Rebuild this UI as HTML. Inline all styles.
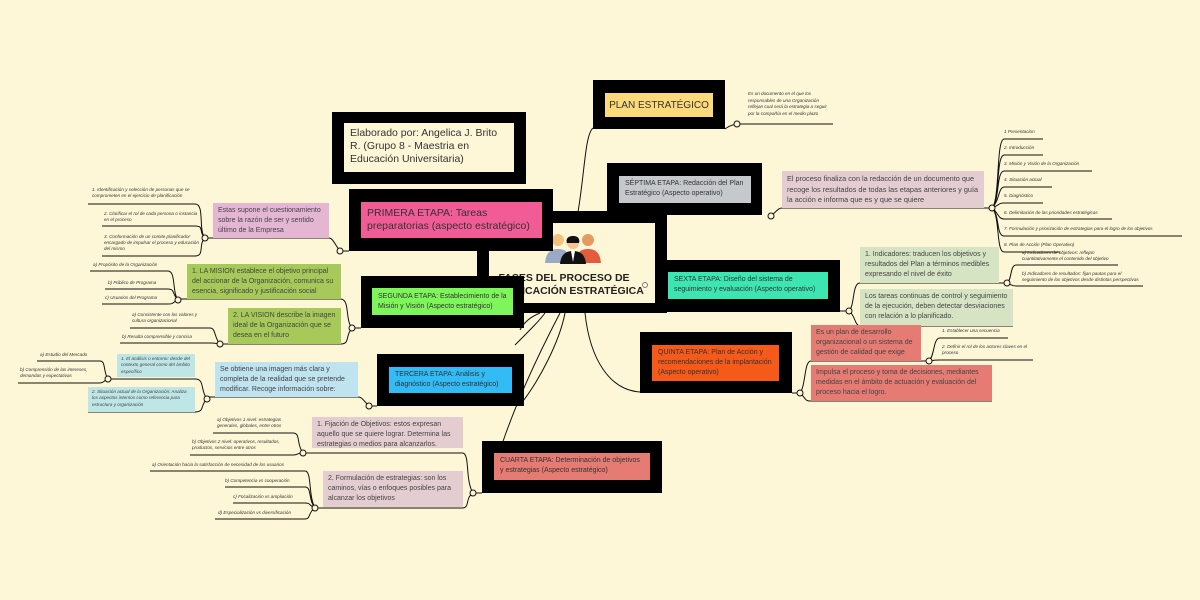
<!DOCTYPE html>
<html><head><meta charset="utf-8"><style>
body{margin:0;width:1200px;height:600px;background:#fdf7d8;position:relative;overflow:hidden;font-family:"Liberation Sans",sans-serif;color:#333}
.b{position:absolute;background:#000}
.i{position:absolute;box-sizing:border-box;padding:3px 6px;line-height:1.3}
.n{position:absolute;box-sizing:border-box;padding:3px 5px;font-size:7px;line-height:1.45;color:#444;overflow:hidden}
.t{position:absolute;font-size:4.6px;color:#333;font-style:italic;line-height:1.5;white-space:nowrap}
svg{position:absolute;left:0;top:0}
</style></head><body>
<svg width="1200" height="600" fill="none" stroke="#111" stroke-width="1">
<path d="M578 212 C585 170 585 135 593 128"/>
<path d="M505 212 C505 195 520 190 540 190"/>
<path d="M520 330 C525 320 535 315 540 313"/>
<path d="M515 345 C530 330 540 320 545 313"/>
<path d="M520 405 C540 380 560 340 565 313"/>
<path d="M488 493 C500 440 525 380 560 313"/>
<path d="M640 392 C610 390 590 360 585 313"/>
<path d="M725 129 C730 125 735 124 740 124 L833 124"/>
<path d="M771 216 C776 212 778 208 782 208 L992 208"/>
<path d="M992 208 C1000 200 996 140 1004 139 L1043 139 M992 208 C1000 200 996 156 1004 155 L1043 155 M992 208 C1000 200 996 172 1004 171 L1092 171 M992 208 C1000 200 998 188 1004 187 L1052 187 M992 208 C1000 205 998 203 1004 203 L1043 203 M992 208 C998 212 998 219 1004 219 L1112 219 M992 208 C1000 215 996 236 1004 236 L1182 236 M992 208 C1000 215 996 252 1004 252 L1060 252"/>
<path d="M840 311 L849 311 C855 305 852 283 860 283 L1007 283 M849 311 C855 315 855 326 860 326 L1013 326"/>
<path d="M1007 283 C1012 280 1010 265 1016 265 L1118 265 M1007 283 C1012 285 1012 286 1016 286 L1143 286"/>
<path d="M792 393 L800 393 C806 385 804 361 811 361 L929 361 M800 393 C806 398 804 401 811 401 L992 401"/>
<path d="M929 361 C935 355 933 338 940 338 L1008 338 M929 361 C935 360 934 360 940 360 L1033 360"/>
<path d="M349 251 L340 251 C335 245 333 238 329 238 L205 238"/>
<path d="M205 238 C198 230 205 204 195 204 L88 204 M205 238 C198 232 205 226 195 226 L102 226 M205 238 C198 244 205 256 195 256 L102 256"/>
<path d="M361 328 L352 328 C345 320 350 300 341 299 L178 299 M352 328 C345 336 350 344 341 344 L220 344"/>
<path d="M178 300 C172 292 176 271 168 271 L90 271 M178 300 C172 294 175 289 168 289 L105 289 M178 300 C172 302 175 304 168 304 L102 304"/>
<path d="M220 344 C214 338 216 328 210 328 L130 328 M220 344 C214 343 215 343 210 343 L120 343"/>
<path d="M377 406 L369 406 C363 400 362 397 358 397 L207 397"/>
<path d="M207 399 C200 390 205 379 195 379 L108 379 M207 399 C200 405 205 412 195 412 L88 412"/>
<path d="M108 379 C103 372 106 361 100 361 L37 361 M108 379 C103 381 104 383 100 383 L18 383"/>
<path d="M482 493 L473 493 C465 480 470 455 463 453 L303 453 M473 493 C465 498 470 507 463 508 L315 508"/>
<path d="M303 453 C296 444 301 433 293 433 L213 433 M303 453 C296 453 299 455 293 455 L190 455"/>
<path d="M315 508 C308 495 312 471 305 471 L150 471 M315 508 C308 500 312 487 305 487 L225 487 M315 508 C308 505 311 503 305 503 L233 503 M315 508 C308 512 311 519 305 519 L215 519"/>
<g fill="#fdf7d8">
<circle cx="771" cy="216" r="3"/><circle cx="992" cy="208" r="3"/><circle cx="849" cy="311" r="3"/><circle cx="1007" cy="283" r="3"/><circle cx="800" cy="393" r="3"/><circle cx="929" cy="361" r="3"/><circle cx="340" cy="251" r="3"/><circle cx="205" cy="238" r="3"/><circle cx="352" cy="328" r="3"/><circle cx="178" cy="300" r="3"/><circle cx="220" cy="344" r="3"/><circle cx="369" cy="406" r="3"/><circle cx="207" cy="399" r="3"/><circle cx="108" cy="379" r="3"/><circle cx="473" cy="493" r="3"/><circle cx="303" cy="453" r="3"/><circle cx="315" cy="508" r="3"/><circle cx="737" cy="124" r="3"/>
</g>
</svg>

<div class="b" style="left:477px;top:211px;width:190px;height:102px"></div>
<div class="i" style="left:489px;top:223px;width:166px;height:80px;background:#fdf7d8"></div>
<svg width="1200" height="600">
<circle cx="558" cy="240" r="6" fill="#f2c27e"/><path d="M545 263 C546 252 551 249 558 249 C565 249 570 252 571 263Z" fill="#9aa9c4"/>
<circle cx="588" cy="240" r="6" fill="#e59a60"/><path d="M575 263 C576 252 581 249 588 249 C595 249 600 252 601 263Z" fill="#e55c3c"/>
<circle cx="573" cy="243" r="6" fill="#f5c58d"/><path d="M573 236 C566 236 566 241 567 243 L579 243 C580 240 579 236 573 236Z" fill="#111"/><path d="M560 264 C561 254 566 251 573 251 C580 251 585 254 586 264Z" fill="#111"/><path d="M571 251 L573 262 L575 251Z" fill="#fff"/>
<circle cx="645" cy="285" r="2.5" fill="none" stroke="#555" stroke-width="0.7"/>
</svg>
<div style="position:absolute;left:484px;top:272px;width:160px;text-align:center;font-size:10.5px;line-height:13px;font-weight:bold;color:#222;white-space:nowrap">FASES DEL PROCESO DE<br>PLANIFICACIÓN ESTRATÉGICA</div>

<div class="b" style="left:593px;top:80px;width:132px;height:49px"></div>
<div class="i" style="left:605px;top:93px;width:108px;height:24px;background:#fcd97a;font-size:10px;padding:6px 0 0;text-align:center;white-space:nowrap">PLAN ESTRATÉGICO</div>
<div class="t" style="left:748px;top:91px;white-space:normal;width:85px;line-height:1.45">Es un documento en el que los responsables de una Organización reflejan cual será la estrategia a seguir por la compañía en el medio plazo</div>

<div class="b" style="left:332px;top:112px;width:194px;height:72px"></div>
<div class="i" style="left:344px;top:123px;width:170px;height:49px;background:#fdf7d8;font-size:10.5px;line-height:13px;padding-top:4px">Elaborado por: Angelica J. Brito R. (Grupo 8 - Maestria en Educación Universitaria)</div>

<div class="b" style="left:349px;top:189px;width:204px;height:62px"></div>
<div class="i" style="left:361px;top:202px;width:181px;height:36px;background:#f25c96;font-size:10.5px;line-height:13px;padding-top:5px">PRIMERA ETAPA: Tareas preparatorias (aspecto estratégico)</div>

<div class="b" style="left:361px;top:276px;width:163px;height:52px"></div>
<div class="i" style="left:372px;top:288px;width:141px;height:27px;background:#7ef55a;font-size:7px;line-height:10px;padding-top:4px">SEGUNDA ETAPA: Establecimiento de la Misión y Visión (Aspecto estratégico)</div>

<div class="b" style="left:377px;top:354px;width:147px;height:52px"></div>
<div class="i" style="left:389px;top:367px;width:123px;height:26px;background:#33bbf5;font-size:7px;line-height:10px;padding-top:3px">TERCERA ETAPA: Análisis y diagnóstico (Aspecto estratégico)</div>

<div class="b" style="left:482px;top:441px;width:180px;height:52px"></div>
<div class="i" style="left:494px;top:453px;width:156px;height:27px;background:#e57b72;font-size:7px;line-height:10px;padding-top:3px">CUARTA ETAPA: Determinación de objetivos y estrategias (Aspecto estratégico)</div>

<div class="b" style="left:640px;top:332px;width:152px;height:61px"></div>
<div class="i" style="left:652px;top:345px;width:127px;height:36px;background:#f55a1a;font-size:7px;line-height:10px;padding-top:3px">QUINTA ETAPA: Plan de Acción y recomendaciones de la implantación (Aspecto operativo)</div>

<div class="b" style="left:667px;top:260px;width:173px;height:52px"></div>
<div class="i" style="left:668px;top:272px;width:160px;height:27px;background:#3de5b0;font-size:7px;line-height:10px;padding-top:3px">SEXTA ETAPA: Diseño del sistema de seguimiento y evaluación (Aspecto operativo)</div>

<div class="b" style="left:607px;top:163px;width:155px;height:52px"></div>
<div class="i" style="left:619px;top:176px;width:132px;height:27px;background:#c5c9cc;font-size:7px;line-height:10px;padding-top:3px">SÉPTIMA ETAPA: Redacción del Plan Estratégico (Aspecto operativo)</div>

<div class="n" style="left:782px;top:171px;width:202px;height:37px;background:#e3cdd0;font-size:7.3px">El proceso finaliza con la redacción de un documento que recoge los resultados de todas las etapas anteriores y guía la acción e informa que es y que se quiere</div>
<div class="t" style="left:1004px;top:129px">1 Presentacion</div>
<div class="t" style="left:1004px;top:145px">2. Introducción</div>
<div class="t" style="left:1004px;top:161px">3. Misión y Visión de la Organización</div>
<div class="t" style="left:1004px;top:177px">4. Situación actual</div>
<div class="t" style="left:1004px;top:193px">5. Diagnóstico</div>
<div class="t" style="left:1004px;top:210px">6. Delimitación de las prioridades estratégicas</div>
<div class="t" style="left:1004px;top:226px">7. Formulación y priorización de estrategias para el logro de los objetivos</div>
<div class="t" style="left:1004px;top:242px">8. Plan de Acción (Plan Operativo)</div>

<div class="n" style="left:860px;top:247px;width:139px;height:36px;background:#d6e4c4">1. Indicadores: traducen los objetivos y resultados del Plan a términos medibles expresando el nivel de éxito</div>
<div class="n" style="left:860px;top:289px;width:153px;height:37px;background:#d6e4c4">Los tareas continuas de control y seguimiento de la ejecución, deben detectar desviaciones con relación a lo planificado.</div>
<div class="t" style="left:1022px;top:250px;white-space:normal;width:100px;line-height:1.3">a) Indicadores de objetivos: reflejan cuantitativamente el contenido del objetivo</div>
<div class="t" style="left:1022px;top:271px;white-space:normal;width:125px;line-height:1.3">b) Indicadores de resultados: fijan pautas para el seguimiento de los objetivos desde distintas perspectivas</div>

<div class="n" style="left:811px;top:325px;width:110px;height:36px;background:#e57b72">Es un plan de desarrollo organizacional o un sistema de gestión de calidad que exige</div>
<div class="n" style="left:811px;top:365px;width:181px;height:36px;background:#e57b72">Impulsa el proceso y toma de decisiones, mediantes medidas en el ámbito de actuación y evaluación del proceso hacia el logro.</div>
<div class="t" style="left:942px;top:328px">1. Establecer una secuencia</div>
<div class="t" style="left:942px;top:344px;white-space:normal;width:90px;line-height:1.3">2. Definir el rol de los actores claves en el proceso</div>

<div class="n" style="left:213px;top:203px;width:116px;height:35px;background:#e4b6d4">Estas supone el cuestionamiento sobre la razón de ser y sentido último de la Empresa</div>
<div class="t" style="left:92px;top:187px;white-space:normal;width:108px;line-height:1.3">1. Identificación y selección de personas que se comprometen en el ejercicio de planificación</div>
<div class="t" style="left:104px;top:211px;white-space:normal;width:95px;line-height:1.3">2. Clarificar el rol de cada persona o instancia en el proceso</div>
<div class="t" style="left:104px;top:234px;white-space:normal;width:95px;line-height:1.3">3. Conformación de un comite planificador encargado de impulsar el proceso y educación del mismo</div>

<div class="n" style="left:187px;top:264px;width:154px;height:35px;background:#a6c95a">1. LA MISION establece el objetivo principal del accionar de la Organización, comunica su esencia, significado y justificación social</div>
<div class="n" style="left:228px;top:308px;width:113px;height:36px;background:#a6c95a">2. LA VISION describe la imagen ideal de la Organización que se desea en el futuro</div>
<div class="t" style="left:93px;top:262px">a) Propósito de la Organización</div>
<div class="t" style="left:108px;top:280px">b) Público de Programa</div>
<div class="t" style="left:105px;top:295px">c) Usuarios del Programa</div>
<div class="t" style="left:132px;top:312px;white-space:normal;width:80px;line-height:1.3">a) Consistente con los valores y cultura organizacional</div>
<div class="t" style="left:122px;top:334px">b) Resulta comprensible y concisa</div>

<div class="n" style="left:215px;top:362px;width:143px;height:35px;background:#c0e3f0">Se obtiene una imagen más clara y completa de la realidad que se pretende modificar. Recoge información sobre:</div>
<div class="n" style="left:117px;top:354px;width:78px;height:23px;background:#bfe6e6;font-size:4.6px;font-style:italic;line-height:1.4;padding:2px 4px">1. El análisis o entorno: desde del contexto general como del ámbito específico</div>
<div class="n" style="left:88px;top:387px;width:107px;height:25px;background:#bfe6e6;font-size:4.6px;font-style:italic;line-height:1.4;padding:2px 4px">2. Situación actual de la Organización: Analiza los aspectos internos como referencia para estructura y organización</div>
<div class="t" style="left:40px;top:352px">a) Estudio del Mercado</div>
<div class="t" style="left:20px;top:367px;white-space:normal;width:80px;line-height:1.3">b) Comprensión de las intereses, demandas y expectativas</div>

<div class="n" style="left:312px;top:417px;width:151px;height:31px;background:#e3cdd0">1. Fijación de Objetivos: estos expresan aquello que se quiere lograr. Determina las estrategias o medios para alcanzarlos.</div>
<div class="n" style="left:323px;top:471px;width:140px;height:36px;background:#e3cdd0">2. Formulación de estrategias: son los caminos, vías o enfoques posibles para alcanzar los objetivos</div>
<div class="t" style="left:217px;top:417px;white-space:normal;width:78px;line-height:1.3">a) Objetivos 1 nivel: estrategias generales, globales, entre otros</div>
<div class="t" style="left:192px;top:439px;white-space:normal;width:100px;line-height:1.3">b) Objetivos 2 nivel: operativos, resultados, productos, servicios entre otros</div>
<div class="t" style="left:152px;top:462px">a) Orientación hacia la satisfacción de necesidad de los usuarios</div>
<div class="t" style="left:225px;top:478px">b) Competencia vs cooperación</div>
<div class="t" style="left:233px;top:494px">c) Focalización vs ampliación</div>
<div class="t" style="left:218px;top:510px">d) Especialización vs diversificación</div>
</body></html>
